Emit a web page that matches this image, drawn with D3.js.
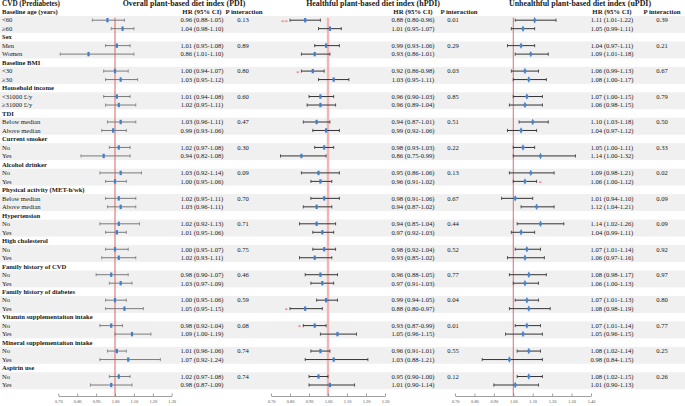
<!DOCTYPE html>
<html>
<head>
<meta charset="utf-8">
<script src="https://cdn.jsdelivr.net/npm/d3@7"></script>
<style>
  body { margin: 0; background: #fff; }
  text { font-family: "Liberation Serif", "DejaVu Serif", serif; fill: #1a1a1a; }
</style>
</head>
<body>
<div id="chart" style="width:685px;height:406px"></div>
<script>
// ---- data ----
const groups = [
  "Baseline age (years)", "Sex", "Baseline BMI", "Household income", "TDI",
  "Current smoker", "Alcohol drinker", "Physical activity (MET-h/wk)", "Hypertension",
  "High cholesterol", "Family history of CVD", "Family history of diabetes",
  "Vitamin supplementaiton intake", "Mineral supplementaiton intake", "Aspirin use"
];
const subgroups = [
  ["<60", "≥60"], ["Men", "Women"], ["<30", "≥30"], ["<31000 £/y", "≥31000 £/y"],
  ["Below median", "Above median"], ["No", "Yes"], ["No", "Yes"], ["Below median", "Above median"],
  ["No", "Yes"], ["No", "Yes"], ["No", "Yes"], ["No", "Yes"], ["No", "Yes"], ["No", "Yes"], ["No", "Yes"]
];

// PDI
const pdiHR = [0.96,1.04, 1.01,0.86, 1.00,1.03, 1.01,1.02, 1.03,0.99, 1.02,0.94, 1.03,1.00, 1.02,1.03,
  1.02,1.01, 1.00,1.02, 0.98,1.03, 1.00,1.05, 0.98,1.09, 1.01,1.07, 1.02,0.98];
const pdiLo = [0.88,0.98, 0.95,0.71, 0.94,0.95, 0.94,0.95, 0.96,0.93, 0.97,0.82, 0.92,0.95, 0.95,0.96,
  0.92,0.95, 0.95,0.93, 0.90,0.97, 0.95,0.95, 0.92,1.00, 0.96,0.92, 0.97,0.87];
const pdiHi = [1.05,1.10, 1.08,1.10, 1.07,1.12, 1.08,1.11, 1.11,1.06, 1.08,1.08, 1.14,1.06, 1.11,1.11,
  1.13,1.06, 1.07,1.11, 1.07,1.09, 1.06,1.15, 1.04,1.19, 1.06,1.24, 1.08,1.09];
const pdiText = ["0.96 (0.88-1.05)","1.04 (0.98-1.10)","1.01 (0.95-1.08)","0.86 (1.01-1.10)",
  "1.00 (0.94-1.07)","1.03 (0.95-1.12)","1.01 (0.94-1.08)","1.02 (0.95-1.11)","1.03 (0.96-1.11)",
  "0.99 (0.93-1.06)","1.02 (0.97-1.08)","0.94 (0.82-1.08)","1.03 (0.92-1.14)","1.00 (0.95-1.06)",
  "1.02 (0.95-1.11)","1.03 (0.96-1.11)","1.02 (0.92-1.13)","1.01 (0.95-1.06)","1.00 (0.95-1.07)",
  "1.02 (0.93-1.11)","0.98 (0.90-1.07)","1.03 (0.97-1.09)","1.00 (0.95-1.06)","1.05 (0.95-1.15)",
  "0.98 (0.92-1.04)","1.09 (1.00-1.19)","1.01 (0.96-1.06)","1.07 (0.92-1.24)","1.02 (0.97-1.08)",
  "0.98 (0.87-1.09)"];
const pdiP = ["0.13","0.89","0.80","0.60","0.47","0.30","0.09","0.70","0.71","0.75","0.46","0.59","0.08","0.74","0.74"];
const pdiStars = Array(30).fill("");

// hPDI
const hpdiHR = [0.88,1.01, 0.99,0.93, 0.92,1.03, 0.96,0.96, 0.94,0.99, 0.98,0.86, 0.95,0.96, 0.98,0.94,
  0.94,0.97, 0.98,0.93, 0.96,0.97, 0.99,0.88, 0.93,1.05, 0.96,1.03, 0.95,1.01];
const hpdiLo = [0.80,0.95, 0.93,0.86, 0.86,0.95, 0.90,0.89, 0.87,0.92, 0.93,0.75, 0.86,0.91, 0.91,0.87,
  0.85,0.92, 0.92,0.85, 0.88,0.91, 0.94,0.80, 0.87,0.96, 0.91,0.88, 0.90,0.90];
const hpdiHi = [0.96,1.07, 1.06,1.01, 0.98,1.11, 1.03,1.04, 1.01,1.06, 1.03,0.99, 1.06,1.02, 1.06,1.02,
  1.04,1.03, 1.04,1.02, 1.05,1.03, 1.05,0.97, 0.99,1.15, 1.01,1.21, 1.00,1.14];
const hpdiP = ["0.01","0.29","0.03","0.85","0.51","0.22","0.13","0.67","0.44","0.52","0.77","0.04","0.01","0.55","0.12"];
const hpdiStars = ["**","", "","", "*","", "","", "","", "","", "","", "","", "","", "","", "","", "","*", "*","", "","", "",""];

// uPDI
const updiHR = [1.11,1.05, 1.04,1.09, 1.06,1.08, 1.07,1.06, 1.10,1.04, 1.05,1.14, 1.09,1.06, 1.01,1.12,
  1.14,1.04, 1.07,1.06, 1.08,1.06, 1.07,1.08, 1.07,1.05, 1.08,0.98, 1.08,1.01];
const updiLo = [1.01,0.99, 0.97,1.01, 0.99,1.00, 1.00,0.98, 1.03,0.97, 1.00,1.00, 0.98,1.00, 0.94,1.04,
  1.02,0.99, 1.01,0.97, 0.98,1.00, 1.01,0.98, 1.01,0.96, 1.02,0.84, 1.02,0.90];
const updiHi = [1.22,1.11, 1.11,1.18, 1.13,1.17, 1.15,1.15, 1.18,1.12, 1.11,1.32, 1.21,1.12, 1.10,1.21,
  1.26,1.11, 1.14,1.16, 1.17,1.13, 1.13,1.19, 1.14,1.15, 1.14,1.15, 1.15,1.13];
const updiP = ["0.39","0.21","0.67","0.79","0.50","0.33","0.02","0.09","0.09","0.92","0.97","0.80","0.77","0.25","0.26"];
const updiStars = ["","", "","", "","", "","", "","", "","", "","*", "","", "","", "","", "","", "","", "","", "","", "",""];

const ticksA = [0.70, 0.80, 0.90, 1.00, 1.10, 1.20, 1.30];
const ticksB = [0.70, 0.80, 0.90, 1.00, 1.10, 1.20, 1.30, 1.40];

const fmt = d3.format(".2f");

// ---- chart ----
const W = 685, H = 406;
const svg = d3.select("#chart").append("svg").attr("width", W).attr("height", H);

const rowY = d3.scaleLinear().domain([0, 44]).range([11.7, 385]);
const rh = rowY(1) - rowY(0);

// grey bands behind subgroup rows
svg.append("g").selectAll("rect").data(groups).join("rect")
  .attr("x", 0).attr("width", W)
  .attr("y", (d, i) => rowY(3 * i + 1) - rh / 2)
  .attr("height", rh * 2)
  .attr("fill", "#f0f0f0");

// left labels
const left = svg.append("g").attr("font-size", 6.6);
left.append("text").attr("x", 2).attr("y", rowY(-1)).attr("dy", "0.35em")
  .attr("font-weight", "bold").attr("font-size", 7.2).text("CVD (Prediabetes)");
groups.forEach((g, i) => {
  left.append("text").attr("x", 2).attr("y", rowY(3 * i)).attr("dy", "0.35em")
    .attr("font-weight", "bold").text(g);
  subgroups[i].forEach((s, j) => {
    left.append("text").attr("x", 2).attr("y", rowY(3 * i + 1 + j)).attr("dy", "0.35em").text(s);
  });
});

const panels = [
  { title: "Overall plant-based diet index (PDI)", hr: pdiHR, lo: pdiLo, hi: pdiHi, text: pdiText, p: pdiP, stars: pdiStars,
    domain: [0.70, 1.30], range: [58.3, 171.7], ticks: ticksA, titleX: 184, hrX: 202, pHeadX: 244, pX: 243,
    ci: "#7a7a7a", ref: { c: "#d9534f", w: 0.9 }, marker: "rect", starSide: -1 },
  { title: "Healthful plant-based diet index (hPDI)", hr: hpdiHR, lo: hpdiLo, hi: hpdiHi, p: hpdiP, stars: hpdiStars,
    domain: [0.70, 1.30], range: [271, 385], ticks: ticksA, titleX: 373, hrX: 413, pHeadX: 459, pX: 453,
    ci: "#333", ref: { c: "#f3b3b3", w: 2.4 }, marker: "rect", starSide: -1 },
  { title: "Unhealthful plant-based diet index (uPDI)", hr: updiHR, lo: updiLo, hi: updiHi, p: updiP, stars: updiStars,
    domain: [0.70, 1.40], range: [455, 591], ticks: ticksB, titleX: 580, hrX: 612, pHeadX: 662, pX: 662,
    ci: "#333", ref: { c: "#e05a5a", w: 0.9 }, marker: "diamond", starSide: 1 }
];

const rowIdx = d3.range(30).map(k => 3 * Math.floor(k / 2) + 1 + (k % 2));

panels.forEach(pn => {
  const x = d3.scaleLinear().domain(pn.domain).range(pn.range);
  const g = svg.append("g");

  // titles and column headers
  g.append("text").attr("x", pn.titleX).attr("y", rowY(-1)).attr("dy", "0.35em")
    .attr("text-anchor", "middle").attr("font-weight", "bold").attr("font-size", 7.9).text(pn.title);
  g.append("text").attr("x", pn.hrX).attr("y", rowY(0)).attr("dy", "0.35em")
    .attr("text-anchor", "middle").attr("font-weight", "bold").attr("font-size", 6.8).text("HR (95% CI)");
  g.append("text").attr("x", pn.pHeadX).attr("y", rowY(0)).attr("dy", "0.35em")
    .attr("text-anchor", "middle").attr("font-weight", "bold").attr("font-size", 6.8).text("P interaction");

  // reference line at HR = 1
  g.append("line")
    .attr("x1", x(1)).attr("x2", x(1))
    .attr("y1", rowY(0.7)).attr("y2", 396)
    .attr("stroke", pn.ref.c).attr("stroke-width", pn.ref.w);

  const rows = d3.range(30).map(k => ({
    y: rowY(rowIdx[k]), hr: pn.hr[k], lo: pn.lo[k], hi: pn.hi[k],
    label: pn.text ? pn.text[k] : `${fmt(pn.hr[k])} (${fmt(pn.lo[k])}-${fmt(pn.hi[k])})`,
    star: pn.stars[k]
  }));

  const r = g.selectAll(".row").data(rows).join("g").attr("class", "row");
  r.append("line").attr("x1", d => x(d.lo)).attr("x2", d => x(d.hi))
    .attr("y1", d => d.y).attr("y2", d => d.y).attr("stroke", pn.ci).attr("stroke-width", 1);
  r.append("line").attr("x1", d => x(d.lo)).attr("x2", d => x(d.lo))
    .attr("y1", d => d.y - 1.6).attr("y2", d => d.y + 1.6).attr("stroke", pn.ci).attr("stroke-width", 0.8);
  r.append("line").attr("x1", d => x(d.hi)).attr("x2", d => x(d.hi))
    .attr("y1", d => d.y - 1.6).attr("y2", d => d.y + 1.6).attr("stroke", pn.ci).attr("stroke-width", 0.8);

  if (pn.marker === "rect") {
    r.append("rect").attr("x", d => x(d.hr) - 1.1).attr("y", d => d.y - 2.2)
      .attr("width", 2.2).attr("height", 4.4).attr("fill", "#3f7fcf");
  } else {
    r.append("path").attr("d", d3.symbol(d3.symbolDiamond, 12))
      .attr("transform", d => `translate(${x(d.hr)},${d.y})`).attr("fill", "#4a86d0");
  }

  r.filter(d => d.star).append("text")
    .attr("x", d => pn.starSide < 0 ? x(d.lo) - 2 : x(d.hi) + 2)
    .attr("y", d => d.y).attr("dy", "0.55em")
    .attr("text-anchor", pn.starSide < 0 ? "end" : "start")
    .attr("font-size", 7).style("fill", "#f05a5a").text(d => d.star);

  r.append("text").attr("x", pn.hrX).attr("y", d => d.y).attr("dy", "0.35em")
    .attr("text-anchor", "middle").attr("font-size", 6.6).text(d => d.label);

  g.selectAll(".pv").data(pn.p).join("text").attr("class", "pv")
    .attr("x", pn.pX).attr("y", (d, i) => rowY(3 * i + 1)).attr("dy", "0.35em")
    .attr("text-anchor", "middle").attr("font-size", 6.6).text(d => d);

  // axis
  const ax = g.append("g").attr("transform", "translate(0,396)")
    .call(d3.axisBottom(x).tickValues(pn.ticks).tickFormat(d3.format(".2f"))
      .tickSizeInner(-2.5).tickSizeOuter(0).tickPadding(4));
  ax.select(".domain").attr("stroke", "#777").attr("stroke-width", 0.7);
  ax.selectAll(".tick line").attr("stroke", "#777").attr("stroke-width", 0.7);
  ax.selectAll("text").attr("font-size", 4.4).style("fill", "#555")
    .attr("font-family", "Liberation Serif, serif");
});
</script>
</body>
</html>
